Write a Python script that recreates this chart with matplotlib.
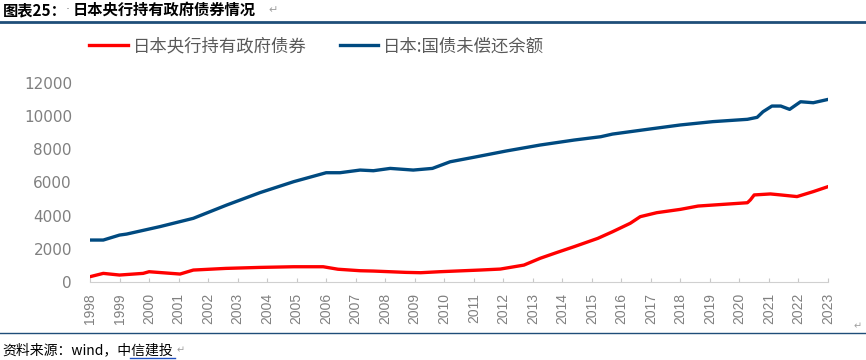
import numpy as np
import matplotlib.pyplot as plt

plt.rcParams['font.family'] = ['Noto Sans CJK SC', 'DejaVu Sans']

# values (time in decimal years)
boj_t = [1998.0, 1998.45, 1999.0, 1999.8, 2000.0, 2001.05, 2001.5, 2002.6, 2003.76,
         2004.9, 2005.9, 2006.4, 2007.15, 2007.6, 2008.7, 2009.2, 2009.85, 2011.2,
         2011.9, 2012.7, 2013.25, 2013.8, 2014.4, 2015.2, 2015.7, 2016.3, 2016.64,
         2017.2, 2018.0, 2018.6, 2019.1, 2020.27, 2020.37, 2020.5, 2021.05, 2021.4,
         2021.95, 2022.5, 2023.0]
boj_v = [320, 520, 420, 520, 620, 480, 720, 820, 880,
         920, 920, 770, 680, 660, 580, 560, 620, 720,
         780, 1020, 1430, 1770, 2130, 2630, 3030, 3540, 3940,
         4180, 4380, 4580, 4640, 4780, 4950, 5250, 5310, 5250,
         5150, 5450, 5750]

jgb_t = [1998.0, 1998.45, 1999.0, 1999.24, 2000.37, 2001.5, 2002.63, 2003.76, 2004.9,
         2006.0, 2006.47, 2007.15, 2007.6, 2008.17, 2008.95, 2009.6, 2010.2, 2011.0,
         2012.1, 2013.25, 2014.4, 2015.3, 2015.7, 2016.9, 2018.0, 2019.1, 2020.27,
         2020.6, 2020.8, 2021.1, 2021.4, 2021.7, 2022.07, 2022.5, 2023.0]
jgb_v = [2530, 2530, 2830, 2890, 3340, 3840, 4640, 5390, 6050,
         6590, 6590, 6750, 6710, 6850, 6750, 6850, 7250, 7520,
         7900, 8260, 8560, 8760, 8920, 9210, 9470, 9670, 9810,
         9930, 10270, 10610, 10610, 10410, 10870, 10810, 11010]

years = list(range(1998, 2024))
yticks = [0, 2000, 4000, 6000, 8000, 10000, 12000]

fig = plt.figure(figsize=(8.66, 3.6), dpi=100)
ax = fig.add_axes([90 / 866, 1 - 282 / 360, 738 / 866, 199 / 360])

ax.plot(boj_t, boj_v, color='#ff0000', lw=2.4, label='日本央行持有政府债券')
ax.plot(jgb_t, jgb_v, color='#004a80', lw=2.4, label='日本:国债未偿还余额')

ax.set_xlim(1998, 2023)
ax.set_ylim(0, 12000)
ax.set_xticks(years)
ax.set_xticklabels([str(y) for y in years], rotation=90,
                   family=['Liberation Sans Narrow', 'Liberation Sans'],
                   fontsize=10, color='#808080')
ax.set_yticks(yticks)
ax.set_yticklabels([str(v) for v in yticks], family='DejaVu Sans', fontsize=11,
                   color='#808080')
ax.tick_params(axis='y', length=0, pad=13)
ax.tick_params(axis='x', direction='in', length=3, color='#c8c8c8', pad=8)
for s in ['top', 'right', 'left']:
    ax.spines[s].set_visible(False)
ax.spines['bottom'].set_color('#d0d0d0')

leg = ax.legend(loc='lower left', bbox_to_anchor=(-0.022, 1.06), ncol=2, frameon=False,
                fontsize=12.5, handlelength=2.2, handletextpad=0.3, columnspacing=1.9)
for t in leg.get_texts():
    t.set_color('#595959')

fig.text(0.003, 1 - 10 / 360, '图表25：', fontsize=11, fontweight='bold',
         va='center', ha='left', color='black')
fig.text(68 / 866, 1 - 10 / 360, '·', fontsize=9, va='center', ha='center',
         color='#808080', family='DejaVu Sans')
fig.text(73 / 866, 1 - 10 / 360, '日本央行持有政府债券情况', fontsize=11,
         fontweight='bold', va='center', ha='left', color='black')
fig.text(0.31, 1 - 10 / 360, '↵', fontsize=8, va='center', color='#a0a0a0',
         family='DejaVu Sans')
fig.add_artist(plt.Line2D([0, 1], [1 - 22 / 360] * 2, color='#1f4e79', lw=2))
fig.add_artist(plt.Line2D([0, 1], [1 - 333 / 360] * 2, color='#1f4e79', lw=1))
fig.text(0.995, 1 - 326 / 360, '↵', fontsize=7, va='center', ha='right',
         color='#a0a0a0', family='DejaVu Sans')
fig.text(0.003, 1 - 350 / 360, '资料来源：wind，中信建投', fontsize=10, style='italic',
         va='center', ha='left', color='black')
fig.add_artist(plt.Line2D([130 / 866, 175 / 866], [1 - 358 / 360] * 2,
                          color='#2050c0', lw=1))
fig.text(177 / 866, 1 - 350 / 360, '↵', fontsize=7, va='center', color='#a0a0a0',
         family='DejaVu Sans')

fig.savefig('out.png', dpi=100)
